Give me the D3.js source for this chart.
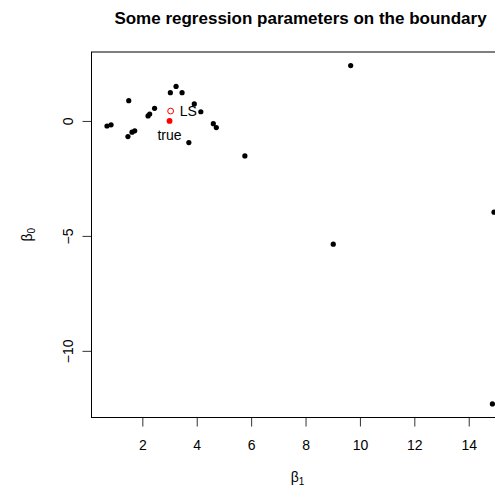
<!DOCTYPE html>
<html>
<head>
<meta charset="utf-8">
<script src="https://cdn.jsdelivr.net/npm/d3@7"></script>
<style>
  html, body { margin: 0; padding: 0; background: #fff; overflow: hidden; }
  svg { display: block; font-family: "Liberation Sans", Arial, Helvetica, sans-serif; }
</style>
</head>
<body>
<svg id="chart" width="495" height="489"></svg>
<script>
// Simulated regression estimates (beta1, beta0)
const beta1 = [0.70, 0.85, 1.50, 1.47, 1.62, 1.72, 2.21, 2.27, 2.45, 3.03, 3.24, 3.46,
               3.91, 4.15, 4.61, 4.72, 3.71, 5.77, 9.66, 9.02, 14.93, 14.87];
const beta0 = [-0.22, -0.17, 0.88, -0.68, -0.49, -0.43, 0.22, 0.30, 0.55, 1.23, 1.50, 1.23,
               0.74, 0.40, -0.12, -0.29, -0.94, -1.52, 2.41, -5.36, -3.97, -12.31];
// Least-squares fit and true parameter
const lsPoint = [3.04, 0.43];
const truePoint = [3.0, 0.0];
const xTicks = [2, 4, 6, 8, 10, 12, 14];
const yTicks = [0, -5, -10];

const svg = d3.select("#chart");
const plot = { left: 91.5, right: 509.5, top: 52, bottom: 417.5 };
const baseFont = 14;

// R-style axis extent: data range plus 4% on each side
function padded(v) {
  const [a, b] = d3.extent(v);
  const p = (b - a) * 0.04;
  return [a - p, b + p];
}
const x = d3.scaleLinear().domain(padded(beta1)).range([plot.left, plot.right]);
const y = d3.scaleLinear().domain(padded(beta0)).range([plot.bottom, plot.top]);

// Title
svg.append("text")
  .attr("x", (plot.left + plot.right) / 2).attr("y", 24)
  .attr("text-anchor", "middle")
  .attr("font-weight", "bold").attr("font-size", 17)
  .attr("fill", "#000")
  .text("Some regression parameters on the boundary");

// Bottom axis
const xAxis = d3.axisBottom(x).tickValues(xTicks).tickSize(9)
  .tickFormat(d3.format("d"));
const gx = svg.append("g").attr("transform", `translate(0,${plot.bottom})`).call(xAxis);
gx.select(".domain").remove();
gx.selectAll(".tick line").attr("stroke", "#333");
gx.selectAll(".tick text").attr("font-size", baseFont).attr("fill", "#000")
  .attr("font-family", "Liberation Sans, Arial, sans-serif")
  .attr("y", 32.5).attr("dy", null);

// Left axis (labels parallel to the axis)
const yAxis = d3.axisLeft(y).tickValues(yTicks).tickSize(9)
  .tickFormat(d => d < 0 ? "\u2212" + Math.abs(d) : String(d));
const gy = svg.append("g").attr("transform", `translate(${plot.left},0)`).call(yAxis);
gy.select(".domain").remove();
gy.selectAll(".tick line").attr("stroke", "#333");
gy.selectAll(".tick text")
  .attr("font-size", baseFont).attr("fill", "#000")
  .attr("font-family", "Liberation Sans, Arial, sans-serif")
  .attr("x", null).attr("dy", null)
  .attr("text-anchor", "middle")
  .attr("transform", "translate(-23.5,0) rotate(-90) translate(0,5)");

// Plot frame
svg.append("rect")
  .attr("x", plot.left).attr("y", plot.top)
  .attr("width", plot.right - plot.left).attr("height", plot.bottom - plot.top)
  .attr("fill", "none").attr("stroke", "#000").attr("stroke-width", 1);

// Axis titles
const xl = svg.append("text")
  .attr("x", (plot.left + plot.right) / 2 - 3).attr("y", 482)
  .attr("text-anchor", "middle").attr("font-size", baseFont).attr("fill", "#000");
xl.append("tspan").text("\u03b2");
xl.append("tspan").attr("font-size", 10).attr("dy", 3).text("1");

const yl = svg.append("text")
  .attr("transform", `translate(32,${(plot.top + plot.bottom) / 2}) rotate(-90)`)
  .attr("text-anchor", "middle").attr("font-size", baseFont).attr("fill", "#000");
yl.append("tspan").text("\u03b2");
yl.append("tspan").attr("font-size", 10).attr("dy", 3).text("0");

// Clip marks to the plotting region
svg.append("clipPath").attr("id", "plotclip").append("rect")
  .attr("x", plot.left).attr("y", plot.top)
  .attr("width", plot.right - plot.left).attr("height", plot.bottom - plot.top);
const g = svg.append("g").attr("clip-path", "url(#plotclip)");

const pts = beta1.map((b, i) => [b, beta0[i]]);
g.selectAll("circle.est").data(pts).enter().append("circle")
  .attr("class", "est")
  .attr("cx", d => x(d[0])).attr("cy", d => y(d[1]))
  .attr("r", 2.6).attr("fill", "#000");

// True parameter (filled) and least-squares estimate (open)
g.append("circle").attr("cx", x(truePoint[0])).attr("cy", y(truePoint[1]))
  .attr("r", 2.9).attr("fill", "#ff0000");
g.append("circle").attr("cx", x(lsPoint[0])).attr("cy", y(lsPoint[1]))
  .attr("r", 2.9).attr("fill", "none").attr("stroke", "#ff0000").attr("stroke-width", 1);

g.append("text").attr("x", x(lsPoint[0]) + 9).attr("y", y(lsPoint[1]) + 5)
  .attr("font-size", baseFont).attr("fill", "#000").text("LS");
g.append("text").attr("x", x(truePoint[0])).attr("y", y(truePoint[1]) + 19)
  .attr("text-anchor", "middle").attr("font-size", baseFont).attr("fill", "#000").text("true");
</script>
</body>
</html>
